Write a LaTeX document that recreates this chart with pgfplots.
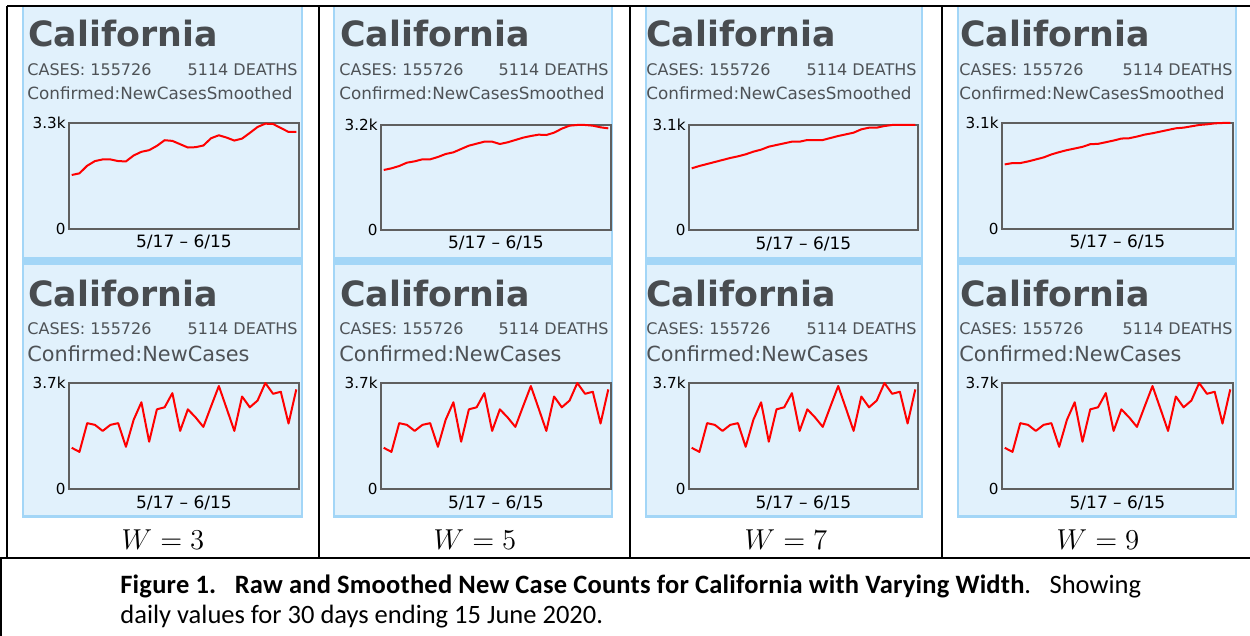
\documentclass[border=0pt]{standalone}
\usepackage{pgfplots}
\usepackage{pgfplotstable}
\pgfplotsset{compat=1.18}
\usepackage{fontspec}
\setmainfont{DejaVu Sans}
\newfontfamily\capfont{Carlito}
\definecolor{panelbg}{RGB}{225,241,252}
\definecolor{panelbd}{RGB}{163,214,247}
\definecolor{titlegray}{RGB}{72,76,80}
\definecolor{txtgray}{RGB}{78,82,86}
\definecolor{framegray}{RGB}{95,95,95}

\pgfplotstableread{
x y
1 1438
2 1296
3 2298
4 2239
5 2027
6 2239
7 2298
8 1473
9 2416
10 3028
11 1650
12 2781
13 2852
14 3347
15 2027
16 2781
17 2498
18 2168
19 2887
20 3594
21 2816
22 2027
23 3229
24 2852
25 3087
26 3700
27 3323
28 3394
29 2286
30 3476
}\rawdata

\pgfplotstableread{
x y
1 1681
2 1733
3 1970
4 2114
5 2166
6 2166
7 2114
8 2104
9 2289
10 2403
11 2454
12 2588
13 2764
14 2743
15 2640
16 2537
17 2547
18 2599
19 2826
20 2918
21 2846
22 2753
23 2815
24 2991
25 3176
26 3279
27 3269
28 3145
29 3022
30 3022
}\smA

\pgfplotstableread{
x y
1 1829
2 1879
3 1950
4 2052
5 2093
6 2154
7 2154
8 2225
9 2316
10 2367
11 2469
12 2570
13 2631
14 2692
15 2692
16 2621
17 2672
18 2743
19 2814
20 2865
21 2905
22 2895
23 2966
24 3088
25 3180
26 3200
27 3200
28 3180
29 3129
30 3098
}\smB

\pgfplotstableread{
x y
1 1821
2 1890
3 1949
4 2008
5 2067
6 2126
7 2175
8 2234
9 2313
10 2372
11 2460
12 2510
13 2559
14 2608
15 2608
16 2657
17 2657
18 2657
19 2716
20 2775
21 2824
22 2874
23 2972
24 3021
25 3021
26 3070
27 3100
28 3100
29 3100
30 3100
}\smC

\pgfplotstableread{
x y
1 1889
2 1928
3 1928
4 1976
5 2034
6 2093
7 2180
8 2248
9 2306
10 2354
11 2403
12 2480
13 2490
14 2538
15 2587
16 2645
17 2654
18 2703
19 2761
20 2800
21 2848
22 2897
23 2945
24 2964
25 3003
26 3042
27 3061
28 3090
29 3100
30 3100
}\smD

\pgfplotsset{minichart/.style={
  scale only axis, anchor=north west,
  xmin=0.65, xmax=30.35, ymin=0,
  xtick=\empty,
  axis line style={draw=framegray, line width=0.8pt},
  major tick length=0pt,
  yticklabel style={font=\fontsize{7.6}{8}\selectfont, inner xsep=1.5pt, text=black},
  xlabel={5/17 -- 6/15},
  xlabel style={font=\fontsize{8.5}{9}\selectfont, at={(axis description cs:0.5,0)}, anchor=base, yshift=-9.5pt, inner sep=0pt},
  clip=false
}, redline/.style={draw=red, line width=1pt, mark=none, line join=round}}

\newcommand{\panel}[6]{% L R titlex casesx deathsx confx
  \fill[panelbd] (#1,6) rectangle (#2,518);
  \fill[panelbg] (#1+1.5,7) rectangle (#2-2,257);
  \fill[panelbg] (#1+1.5,265) rectangle (#2-2,515);
  \node[anchor=base west, inner sep=0pt, font=\bfseries\fontsize{17.4}{20}\selectfont, text=titlegray] at (#3,47) {California};
  \node[anchor=base west, inner sep=0pt, font=\fontsize{8}{9}\selectfont, text=txtgray] at (#4,76) {CASES: 155726};
  \node[anchor=base east, inner sep=0pt, font=\fontsize{8}{9}\selectfont, text=txtgray] at (#5,76) {5114 DEATHS};
  \node[anchor=base west, inner sep=0pt, font=\fontsize{8.4}{9}\selectfont, text=txtgray] at (#6,100) {Confirmed:NewCasesSmoothed};
  \node[anchor=base west, inner sep=0pt, font=\bfseries\fontsize{17.4}{20}\selectfont, text=titlegray] at (#3,307) {California};
  \node[anchor=base west, inner sep=0pt, font=\fontsize{8}{9}\selectfont, text=txtgray] at (#4,335) {CASES: 155726};
  \node[anchor=base east, inner sep=0pt, font=\fontsize{8}{9}\selectfont, text=txtgray] at (#5,335) {5114 DEATHS};
  \node[anchor=base west, inner sep=0pt, font=\fontsize{10.4}{12}\selectfont, text=txtgray] at (#6,362) {Confirmed:NewCases};
}

\begin{document}
\begin{tikzpicture}
\begin{scope}[x=0.5pt,y=-0.5pt]
  \useasboundingbox (0,0) rectangle (1250,636);
  \panel{22}{303}{28}{27}{298}{27}
  \panel{333}{613}{340}{339}{609}{339}
  \panel{645}{923}{646}{646}{917}{646}
  \panel{957}{1237}{960}{959}{1233}{959}
  % table lines
  \draw[black, line width=1pt] (7,6) -- (1250,6);
  \draw[black, line width=1pt] (7,6) -- (7,558);
  \draw[black, line width=1pt] (319,6) -- (319,558);
  \draw[black, line width=1pt] (630,6) -- (630,558);
  \draw[black, line width=1pt] (942,6) -- (942,558);
  \draw[black, line width=1pt] (0,558) -- (1250,558);
  \draw[black, line width=1pt] (1,558) -- (1,636);
  % W labels
  \node[anchor=base, inner sep=0pt, font=\fontsize{14}{16}\selectfont] at (163,550) {$W=3$};
  \node[anchor=base, inner sep=0pt, font=\fontsize{14}{16}\selectfont] at (475,550) {$W=5$};
  \node[anchor=base, inner sep=0pt, font=\fontsize{14}{16}\selectfont] at (786,550) {$W=7$};
  \node[anchor=base, inner sep=0pt, font=\fontsize{14}{16}\selectfont] at (1098,550) {$W=9$};
  % caption
  \node[anchor=base west, inner sep=0pt, font=\capfont\fontsize{13.25}{16}\selectfont] at (120,594) {{\bfseries\addfontfeature{LetterSpace=0.8}Figure 1.\hspace{0.7em}Raw and Smoothed New Case Counts for California with Varying Width}.\hspace{0.7em}Showing};
  \node[anchor=base west, inner sep=0pt, font=\capfont\fontsize{13.25}{16}\selectfont] at (120,624) {daily values for 30 days ending 15 June 2020.};
\end{scope}

% top (smoothed) charts
\begin{axis}[minichart, at={(34.5pt,-61.5pt)}, width=115pt, height=53pt, ymax=3300, ytick={0,3300}, yticklabels={0,3.3k}]
\addplot[redline] table[x=x,y=y] {\smA};
\end{axis}
\begin{axis}[minichart, at={(190.5pt,-62.5pt)}, width=115pt, height=52.5pt, ymax=3200, ytick={0,3200}, yticklabels={0,3.2k}]
\addplot[redline] table[x=x,y=y] {\smB};
\end{axis}
\begin{axis}[minichart, at={(344.5pt,-62.5pt)}, width=114.5pt, height=52.5pt, ymax=3100, ytick={0,3100}, yticklabels={0,3.1k}]
\addplot[redline] table[x=x,y=y] {\smC};
\end{axis}
\begin{axis}[minichart, at={(501pt,-61.5pt)}, width=115.5pt, height=53pt, ymax=3100, ytick={0,3100}, yticklabels={0,3.1k}]
\addplot[redline] table[x=x,y=y] {\smD};
\end{axis}

% bottom (raw) charts
\begin{axis}[minichart, at={(34.5pt,-191.5pt)}, width=115pt, height=53pt, ymax=3700, ytick={0,3700}, yticklabels={0,3.7k}]
\addplot[redline] table[x=x,y=y] {\rawdata};
\end{axis}
\begin{axis}[minichart, at={(190.5pt,-191.5pt)}, width=115pt, height=53pt, ymax=3700, ytick={0,3700}, yticklabels={0,3.7k}]
\addplot[redline] table[x=x,y=y] {\rawdata};
\end{axis}
\begin{axis}[minichart, at={(344.5pt,-191.5pt)}, width=114.5pt, height=53pt, ymax=3700, ytick={0,3700}, yticklabels={0,3.7k}]
\addplot[redline] table[x=x,y=y] {\rawdata};
\end{axis}
\begin{axis}[minichart, at={(501pt,-191.5pt)}, width=115.5pt, height=53pt, ymax=3700, ytick={0,3700}, yticklabels={0,3.7k}]
\addplot[redline] table[x=x,y=y] {\rawdata};
\end{axis}
\end{tikzpicture}
\end{document}
